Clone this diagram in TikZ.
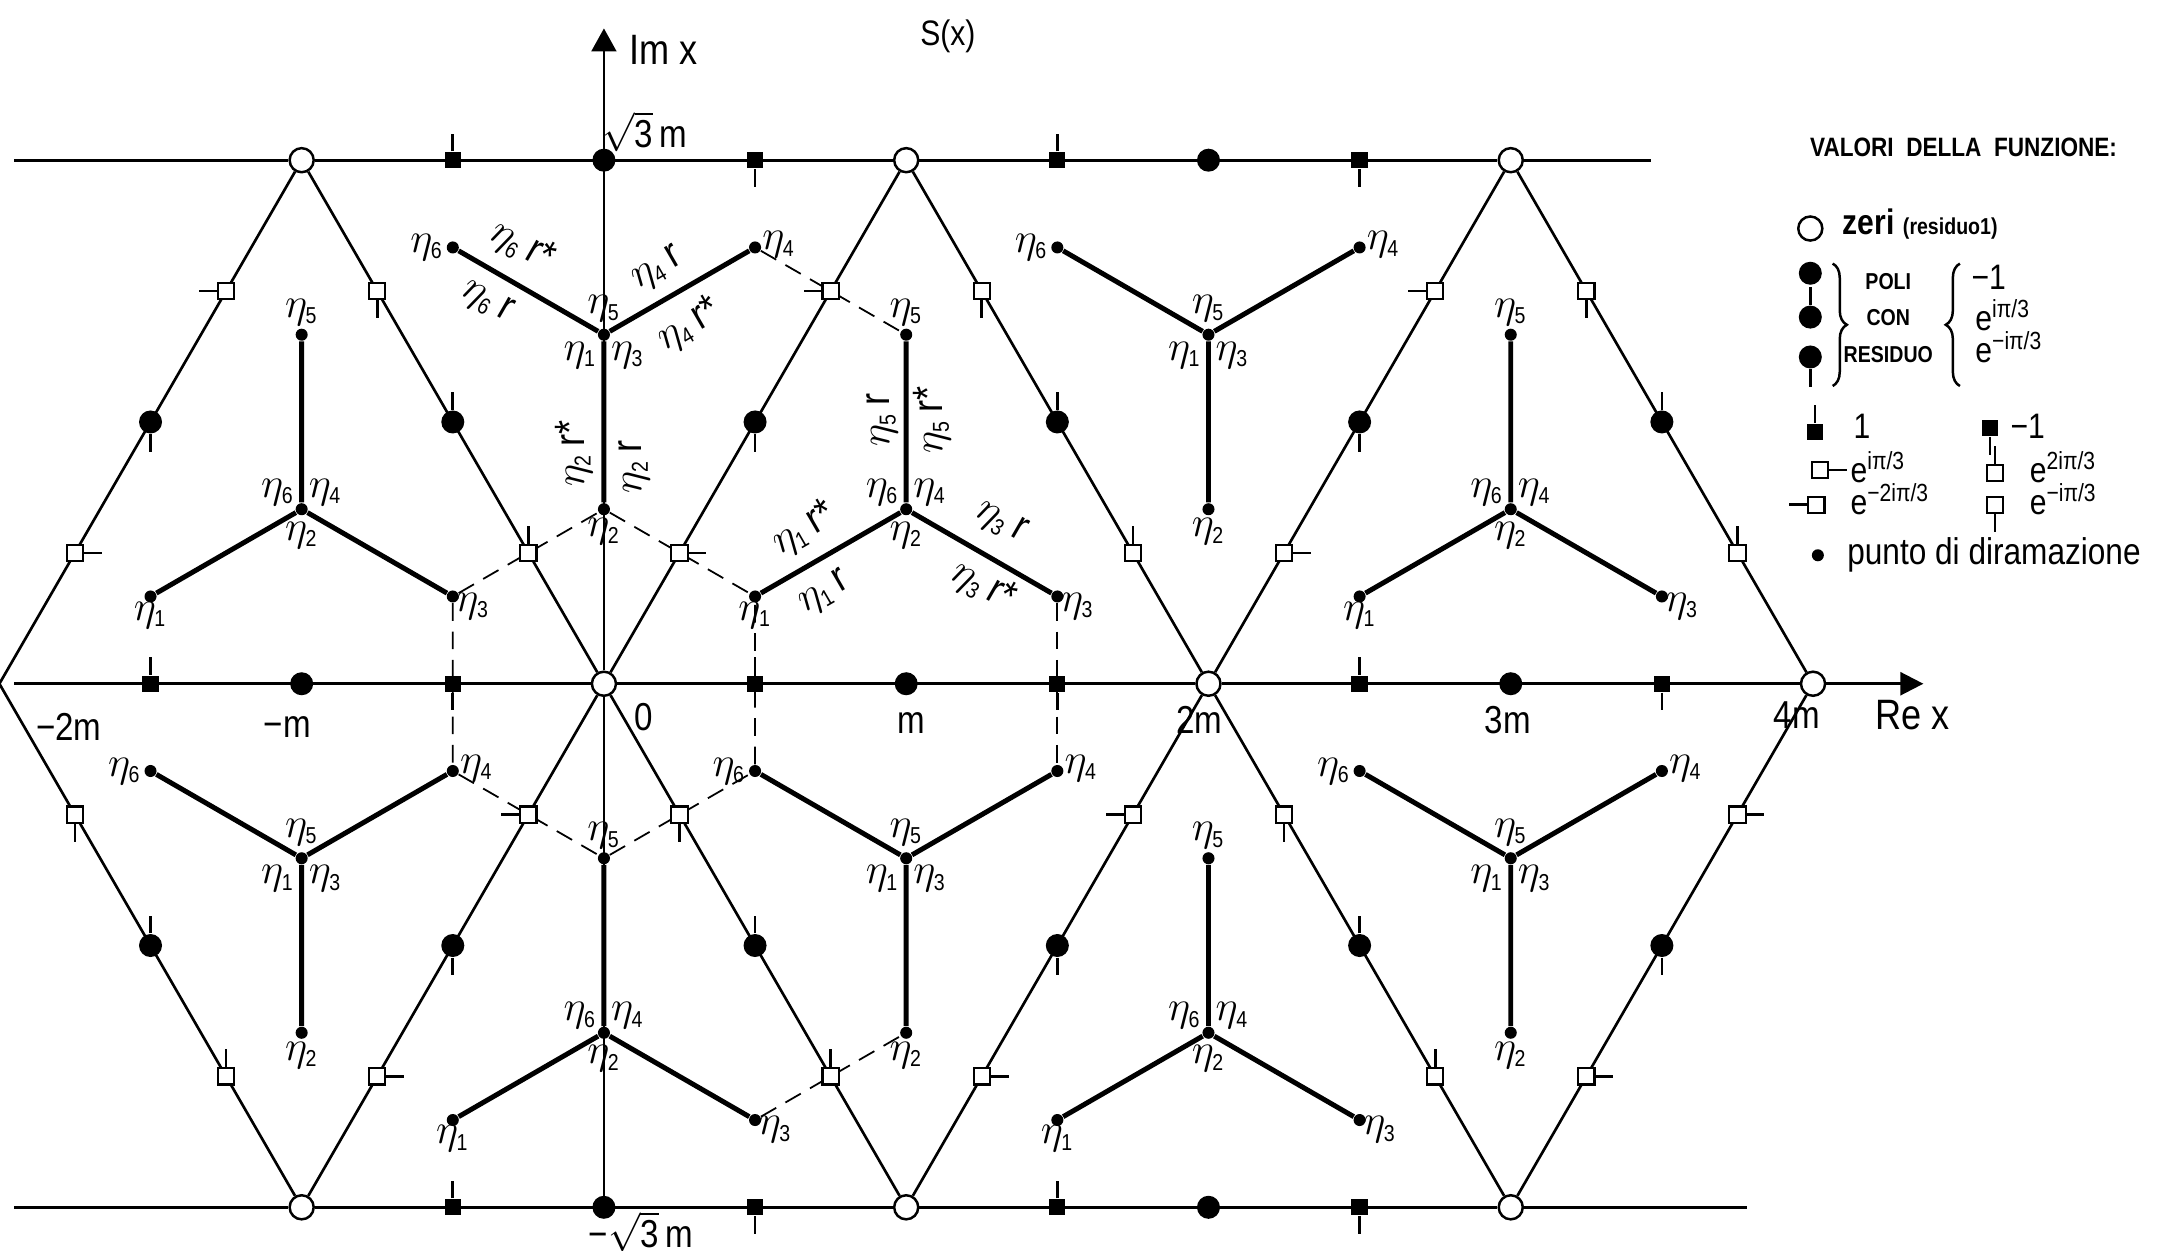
\documentclass[tikz,border=0pt]{standalone}
\usepackage{fontspec}
\setmainfont{Liberation Sans}[FakeStretch=0.85]
\usetikzlibrary{positioning,calc,arrows.meta,decorations.pathreplacing}

\def\hgt{1.7320508}
\newcommand{\et}[1]{$\eta_{\mbox{\fontsize{6.5}{7}\selectfont #1}}$}

\tikzset{
  lat/.style={line width=0.75pt},
  arm/.style={line width=1.4pt},
  dsh/.style={line width=0.5pt, dash pattern=on 5pt off 3pt},
  zero/.style={circle, draw, fill=white, line width=0.7pt, inner sep=0pt, minimum size=6.8pt},
  pole/.style={circle, fill=black, inner sep=0pt, minimum size=6.5pt},
  fsq/.style={rectangle, fill=black, inner sep=0pt, minimum size=4.6pt},
  osq/.style={rectangle, draw, fill=white, line width=0.6pt, inner sep=0pt, minimum size=4.6pt},
  brp/.style={circle, fill=black, inner sep=0pt, minimum size=3.4pt},
  tkup/.style={append after command={(\tikzlastnode.north) edge[lat] ++(0,5pt)}},
  tkdn/.style={append after command={(\tikzlastnode.south) edge[lat] ++(0,-5pt)}},
  tklt/.style={append after command={(\tikzlastnode.west) edge[lat] ++(-5pt,0)}},
  tkrt/.style={append after command={(\tikzlastnode.east) edge[lat] ++(5pt,0)}},
  eta/.style={font=\fontsize{12}{12}\selectfont, inner sep=0.5pt},
  axl/.style={font=\fontsize{11}{11}\selectfont, inner sep=0pt},
  leg/.style={font=\fontsize{10}{10}\selectfont, inner sep=0pt, anchor=base west},
}

\begin{document}
\begin{tikzpicture}[x=3cm, y=3cm]
\useasboundingbox (-1.998,-1.875) rectangle (5.138,2.262);
% zeri
\coordinate (zl) at (-2,0);
\node[zero] (zt1) at (-1,\hgt) {};
\node[zero] (zt2) at (1,\hgt) {};
\node[zero] (zt3) at (3,\hgt) {};
\node[zero] (zo0) at (0,0) {};
\node[zero] (zo2) at (2,0) {};
\node[zero] (zo4) at (4,0) {};
\node[zero] (zb1) at (-1,-\hgt) {};
\node[zero] (zb2) at (1,-\hgt) {};
\node[zero] (zb3) at (3,-\hgt) {};
\coordinate (tl) at (-1.951,\hgt);
\coordinate (tr) at (3.465,\hgt);
\coordinate (bl) at (-1.951,-\hgt);
\coordinate (br) at (3.78,-\hgt);
\coordinate (axl) at (-1.951,0);
\coordinate (axr) at (4.365,0);
\coordinate (ybot) at (0,-\hgt);
\coordinate (ytop) at (0,2.168);
% branch points
\foreach \n/\x/\y in {A/-1/0.57735, C/1/0.57735, E/3/0.57735, B/0/-1.1547, D/2/-1.1547}{
  \node[brp] (u\n-c) at (\x,\y) {};
  \node[brp] (u\n-t) at ($(u\n-c)+(90:0.57735)$) {};
  \node[brp] (u\n-l) at ($(u\n-c)+(210:0.57735)$) {};
  \node[brp] (u\n-r) at ($(u\n-c)+(330:0.57735)$) {};
}
\foreach \n/\x/\y in {B/0/1.1547, D/2/1.1547, A/-1/-0.57735, C/1/-0.57735, E/3/-0.57735}{
  \node[brp] (d\n-c) at (\x,\y) {};
  \node[brp] (d\n-l) at ($(d\n-c)+(150:0.57735)$) {};
  \node[brp] (d\n-r) at ($(d\n-c)+(30:0.57735)$) {};
  \node[brp] (d\n-b) at ($(d\n-c)+(270:0.57735)$) {};
}
% lattice and axes
\draw[lat] (zl) -- (zt1) -- (zo0) -- (zt2) -- (zo2) -- (zt3) -- (zo4);
\draw[lat] (zl) -- (zb1) -- (zo0) -- (zb2) -- (zo2) -- (zb3) -- (zo4);
\draw[lat] (tl) -- (zt1) -- (zt2) -- (zt3) -- (tr);
\draw[lat] (bl) -- (zb1) -- (zb2) -- (zb3) -- (br);
\draw[lat, -{Triangle[length=6.5pt,width=6.5pt]}] (axl) -- (zo0) -- (zo2) -- (zo4) -- (axr);
\draw[lat, -{Triangle[length=6.5pt,width=7pt]}] (ybot) -- (zo0) -- (ytop);
% dashed cuts
\draw[dsh] (dB-r) -- (uC-t);
\draw[dsh] (uA-r) -- (dB-b) -- (uC-l);
\draw[dsh] (uA-r) -- (dA-r) -- (uB-t) -- (dC-l) -- (uC-l);
\draw[dsh] (uC-r) -- (dC-r);
\draw[dsh] (uB-r) -- (dC-b);
% arms
\foreach \n in {A,C,E,B,D}
  \draw[arm] (u\n-t) -- (u\n-c) -- (u\n-l) (u\n-c) -- (u\n-r);
\foreach \n in {B,D,A,C,E}
  \draw[arm] (d\n-l) -- (d\n-c) -- (d\n-r) (d\n-c) -- (d\n-b);
% markers on the slanted lines
\foreach \a/\b/\p/\q/\r [count=\k] in {zl/zt1/tkrt/tkdn/tklt, zo0/zt2/tkrt/tkdn/tklt,
    zo2/zt3/tkrt/tkdn/tklt, zb1/zo0/tkrt/tkdn/tklt, zb2/zo2/tkrt/tkdn/tklt,
    zb3/zo4/tkrt/tkdn/tkrt, zt1/zo0/tkdn/tkup/tkup, zt2/zo2/tkdn/tkup/tkup,
    zt3/zo4/tkdn/tkup/tkup, zl/zb1/tkdn/tkup/tkup, zo0/zb2/tkdn/tkup/tkup,
    zo2/zb3/tkdn/tkup/tkup}{
  \node[osq,\p] (s\k-a) at ($(\a)!0.25!(\b)$) {};
  \node[pole,\q] (s\k-b) at ($(\a)!0.5!(\b)$) {};
  \node[osq,\r] (s\k-c) at ($(\a)!0.75!(\b)$) {};
}
% markers on the horizontal lines
\foreach \x/\t [count=\k] in {-0.5/tkup, 0.5/tkdn, 1.5/tkup, 2.5/tkdn}{
  \node[fsq,\t] (ht-\k) at (\x,\hgt) {};
  \node[fsq,\t] (hb-\k) at (\x,-\hgt) {};
}
\foreach \x/\t [count=\k] in {-1.5/tkup, -0.5/tkdn, 0.5/tkup, 1.5/tkdn, 2.5/tkup, 3.5/tkdn}
  \node[fsq,\t] (ha-\k) at (\x,0) {};
\foreach \x/\y [count=\k] in {0/\hgt, 2/\hgt, 0/-\hgt, 2/-\hgt, -1/0, 1/0, 3/0}
  \node[pole] (hp-\k) at (\x,\y) {};
% eta labels
\foreach \n in {A,C,E,B,D}{
  \node[eta, above=0pt of u\n-t] (u\n-5) {\et{5}};
  \node[eta, above left=-1pt and 0pt of u\n-c] (u\n-6) {\et{6}};
  \node[eta, above right=-1pt and 0pt of u\n-c] (u\n-4) {\et{4}};
  \node[eta, below=1pt of u\n-c] (u\n-2) {\et{2}};
  \node[eta, below=-1pt of u\n-l] (u\n-1) {\et{1}};
  \node[eta, below right=-3pt and -1pt of u\n-r] (u\n-3) {\et{3}};
}
\foreach \n in {B,D,A,C,E}{
  \node[eta, left=0pt of d\n-l] (d\n-6) {\et{6}};
  \node[eta, above right=-5pt and 0pt of d\n-r] (d\n-4) {\et{4}};
  \node[eta, above=1pt of d\n-c] (d\n-5) {\et{5}};
  \node[eta, below left=0pt and 0pt of d\n-c] (d\n-1) {\et{1}};
  \node[eta, below right=0pt and 0pt of d\n-c] (d\n-3) {\et{3}};
  \node[eta, below=0pt of d\n-b] (d\n-2) {\et{2}};
}
% r labels along the arms
\node[eta, rotate=-30] (rB6a) at (-0.27,1.448) {\et{6}\,r*};
\node[eta, rotate=-30] (rB6b) at (-0.387,1.264) {\et{6}\,r};
\node[eta, rotate=30] (rB4a) at (0.176,1.372) {\et{4}\,r};
\node[eta, rotate=30] (rB4b) at (0.282,1.187) {\et{4}\,r*};
\node[eta, rotate=90] (rB2a) at (-0.1,0.762) {\et{2}\,r*};
\node[eta, rotate=90] (rB2b) at (0.1,0.717) {\et{2}\,r};
\node[eta, rotate=90] (rC5a) at (0.92,0.873) {\et{5}\,r};
\node[eta, rotate=90] (rC5b) at (1.085,0.873) {\et{5}\,r*};
\node[eta, rotate=30] (rC1a) at (0.661,0.512) {\et{1}\,r*};
\node[eta, rotate=30] (rC1b) at (0.729,0.3) {\et{1}\,r};
\node[eta, rotate=-30] (rC3a) at (1.312,0.535) {\et{3}\,r};
\node[eta, rotate=-30] (rC3b) at (1.256,0.323) {\et{3}\,r*};
% axis labels
\node[axl] (lm2) at (-1.77,-0.142) {−2m};
\node[axl] (lm1) at (-1.048,-0.142) {−m};
\node[axl] (l0) at (0.131,-0.109) {0};
\node[axl] (l1) at (1.017,-0.131) {m};
\node[axl] (l2) at (1.969,-0.12) {2m};
\node[axl] (l3) at (2.99,-0.12) {3m};
\node[axl] (l4) at (3.946,-0.104) {4m};
\node[axl, font=\fontsize{12}{12}\selectfont] (lre) at (4.328,-0.104) {Re x};
\node[axl, font=\fontsize{12}{12}\selectfont] (lim) at (0.198,2.098) {Im x};
\node[axl, font=\fontsize{10}{10}\selectfont] (lsx) at (1.138,2.143) {S(x)};
\node[axl] (lh1) at (0.136,1.826) {$\sqrt{\mbox{3}}$\,m};
\node[axl] (lh2) at (0.122,-1.813) {−$\sqrt{\mbox{3}}$\,m};
% legenda
\node[font=\bfseries\fontsize{7.5}{8}\selectfont, inner sep=0pt] (lhd) at (4.498,1.775) {VALORI\ \ DELLA\ \ FUNZIONE:};
\node[zero] (kz) at (3.991,1.506) {};
\node[leg, font=\bfseries\fontsize{10}{10}\selectfont] (kzt) at (4.096,1.486) {zeri {\fontsize{6.5}{7}\selectfont(residuo1)}};
\node[pole] (kp1) at (3.991,1.358) {};
\node[pole,tkup] (kp2) at (3.991,1.213) {};
\node[pole,tkdn] (kp3) at (3.991,1.081) {};
\draw[decorate, decoration={brace, amplitude=4pt}, line width=0.7pt] (4.065,1.39) -- (4.065,0.985);
\node[font=\bfseries\fontsize{6.5}{10.2}\selectfont, align=center, inner sep=0pt] (kpt) at (4.249,1.21) {POLI\\CON\\RESIDUO};
\draw[decorate, decoration={brace, amplitude=4pt}, line width=0.7pt] (4.486,0.985) -- (4.486,1.39);
\node[leg] (kv1) at (4.522,1.304) {−1};
\node[leg] (kv2) at (4.535,1.17) {e\textsuperscript{iπ/3}};
\node[leg] (kv3) at (4.535,1.064) {e\textsuperscript{−iπ/3}};
\node[fsq,tkup] (kq1) at (4.007,0.833) {};
\node[leg] (kq1t) at (4.132,0.812) {1};
\node[fsq,tkdn] (kq2) at (4.586,0.845) {};
\node[leg] (kq2t) at (4.651,0.812) {−1};
\node[osq,tkrt] (kq3) at (4.023,0.707) {};
\node[leg] (kq3t) at (4.122,0.667) {e\textsuperscript{iπ/3}};
\node[osq,tkup] (kq4) at (4.602,0.697) {};
\node[leg] (kq4t) at (4.715,0.667) {e\textsuperscript{2iπ/3}};
\node[osq,tklt] (kq5) at (4.011,0.592) {};
\node[leg] (kq5t) at (4.122,0.561) {e\textsuperscript{−2iπ/3}};
\node[osq,tkdn] (kq6) at (4.602,0.592) {};
\node[leg] (kq6t) at (4.715,0.561) {e\textsuperscript{−iπ/3}};
\node[brp] (kb) at (4.016,0.425) {};
\node[leg, font=\fontsize{10.5}{11}\selectfont] (kbt) at (4.111,0.396) {punto di diramazione};
\end{tikzpicture}
\end{document}
